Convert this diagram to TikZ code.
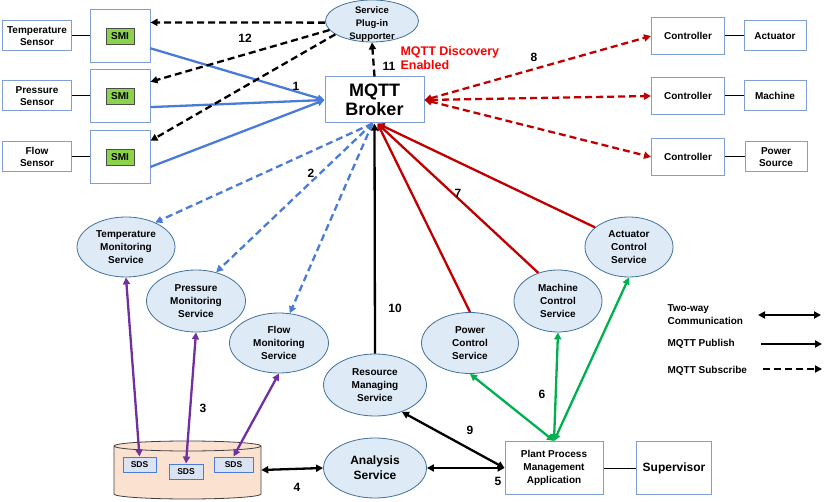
\documentclass[tikz,border=0pt]{standalone}
\usepackage{fontspec}
\setmainfont{Liberation Sans}
\usetikzlibrary{arrows.meta,shapes.geometric,calc}
\definecolor{bxblue}{HTML}{7F9FD4}
\definecolor{elfill}{HTML}{DEEAF6}
\definecolor{elline}{HTML}{41719C}
\definecolor{arblue}{HTML}{4A7BD6}
\definecolor{arred}{HTML}{C00000}
\definecolor{argreen}{HTML}{00B050}
\definecolor{arpurple}{HTML}{7030A0}
\definecolor{smigreen}{HTML}{8CD24A}
\definecolor{dbfill}{HTML}{FBE2D0}
\definecolor{sdsfill}{HTML}{DAE3F3}
\tikzset{
  txt/.style={font=\bfseries\fontsize{10}{13}\selectfont, align=center},
  box/.style={txt, draw=bxblue, line width=1pt, fill=white, inner sep=1pt},
  ell/.style={txt, ellipse, draw=elline, line width=0.8pt, fill=elfill, inner sep=0pt},
  smibox/.style={txt, draw=black!70, line width=0.8pt, fill=smigreen, minimum width=28, minimum height=16, inner sep=0pt},
  sds/.style={txt, draw=arblue, line width=1pt, fill=sdsfill, inner sep=0pt, font=\bfseries\fontsize{8.5}{9}\selectfont},
  num/.style={font=\bfseries\fontsize{12}{13}\selectfont},
  tip/.style={-{Triangle[length=7pt,width=7pt]}},
  tiptwo/.style={{Triangle[length=7pt,width=7pt]}-{Triangle[length=7pt,width=7pt]}},
  dsh/.style={dash pattern=on 7pt off 4pt},
  wire/.style={line width=2.3pt},
  thin/.style={line width=1pt},
}
\begin{document}
\begin{tikzpicture}[x=1pt,y=-1pt]
\useasboundingbox (0,0) rectangle (827,502);

% sensors
\node[box, minimum width=69, minimum height=30] (tsen) at (37,36) {Temperature\\[-1pt]Sensor};
\node[box, minimum width=69, minimum height=30] (psen) at (37,96) {Pressure\\[-1pt]Sensor};
\node[box, minimum width=69, minimum height=30] (fsen) at (37,157) {Flow\\[-1pt]Sensor};
% SMI boxes
\node[box, minimum width=60, minimum height=53] (smi1) at (120,36) {};
\node[box, minimum width=60, minimum height=53] (smi2) at (120,96) {};
\node[box, minimum width=60, minimum height=53] (smi3) at (120,157) {};
\node[smibox] (g1) at (120,36) {SMI};
\node[smibox] (g2) at (120,96) {SMI};
\node[smibox] (g3) at (120,157) {SMI};
\draw[thin] (tsen) -- (smi1);
\draw[thin] (psen) -- (smi2);
\draw[thin] (fsen) -- (smi3);

% plug-in & broker
\node[ell, minimum width=93, minimum height=42] (plug) at (372,21) {};
\node[txt, font=\bfseries\fontsize{9.5}{13}\selectfont] (plugt) at (372,24) {Service\\Plug-in\\Supporter};
\node[box, minimum width=99, minimum height=46, font=\bfseries\fontsize{18}{19}\selectfont] (broker) at (374.5,100) {MQTT\\Broker};
\node[anchor=west, text=red, font=\bfseries\fontsize{12.5}{14}\selectfont, align=left] (disc) at (397,58) {MQTT Discovery\\Enabled};

% controllers
\node[box, minimum width=73, minimum height=37] (c1) at (688,36) {Controller};
\node[box, minimum width=73, minimum height=37] (c2) at (688,96) {Controller};
\node[box, minimum width=73, minimum height=37] (c3) at (688,157) {Controller};
\node[box, minimum width=62, minimum height=30] (act) at (775,36) {Actuator};
\node[box, minimum width=62, minimum height=30] (mac) at (775,96) {Machine};
\node[box, minimum width=62, minimum height=30] (pow) at (776,157) {Power\\[-1pt]Source};
\draw[thin] (c1) -- (act);
\draw[thin] (c2) -- (mac);
\draw[thin] (c3) -- (pow);

% services
\node[ell, minimum width=98, minimum height=60] (tms) at (126,247) {Temperature\\Monitoring\\Service};
\node[ell, minimum width=99, minimum height=62] (pms) at (196,301) {Pressure\\Monitoring\\Service};
\node[ell, minimum width=99, minimum height=60] (fms) at (279,343) {Flow\\Monitoring\\Service};
\node[ell, minimum width=103, minimum height=62] (rms) at (375,385) {Resource\\Managing\\Service};
\node[ell, minimum width=103, minimum height=60, font=\bfseries\fontsize{12}{15}\selectfont] (ana) at (375,468) {Analysis\\Service};
\node[ell, minimum width=97, minimum height=61] (pcs) at (470,343) {Power\\Control\\Service};
\node[ell, minimum width=88, minimum height=62] (mcs) at (558,301) {Machine\\Control\\Service};
\node[ell, minimum width=88, minimum height=60] (acs) at (629,247) {Actuator\\Control\\Service};

% application & supervisor
\node[box, minimum width=98, minimum height=53] (ppma) at (554,468) {Plant Process\\Management\\Application};
\node[box, minimum width=75, minimum height=53, font=\bfseries\fontsize{12}{14}\selectfont] (sup) at (674,468) {Supervisor};
\draw[thin] (ppma) -- (sup);

% database
\draw[draw=black!75, line width=0.8pt, fill=dbfill]
  (114,446) -- (114,494) arc[start angle=180, end angle=0, x radius=73.5, y radius=5]
  -- (261,446) arc[start angle=0, end angle=-180, x radius=73.5, y radius=5] -- cycle;
\draw[draw=black!75, line width=0.8pt] (114,446) arc[start angle=180, end angle=0, x radius=73.5, y radius=5];
\node[minimum width=147, minimum height=58, inner sep=0pt] (db) at (187.5,470) {};
\node[sds, minimum width=33, minimum height=15] (sds1) at (139.5,464.5) {SDS};
\node[sds, minimum width=34, minimum height=15] (sds2) at (186,471.5) {SDS};
\node[sds, minimum width=39, minimum height=15] (sds3) at (233.5,464.5) {SDS};

% blue solid SMI -> broker
\draw[wire, arblue, tip] (smi1.-22) -- (broker.west);
\draw[wire, arblue, tip] (smi2.-20) -- (broker.west);
\draw[wire, arblue, tip] (smi3.-18) -- (broker.west);
% black dashed plug-in -> SMIs
\draw[wire, dsh, tip] (plug.182) -- (smi1.24);
\draw[wire, dsh, tip] (plug.192) -- (smi2.25);
\draw[wire, dsh, tip] (plug.200) -- (smi3.28);
% broker -> plug-in
\draw[wire, dsh, tip] (broker.north) -- (plug.south);
% red dashed broker <-> controllers
\draw[wire, arred, dsh, tiptwo] (broker.east) -- (c1.west);
\draw[wire, arred, dsh, tiptwo] (broker.east) -- (c2.west);
\draw[wire, arred, dsh, tiptwo] (broker.east) -- (c3.west);
% red solid control services -> broker
\coordinate (bkr) at ($(broker.south)+(3,0)$);
\coordinate (bkb) at ($(broker.south)+(-2,0)$);
\draw[wire, arred, tip] (pcs.north) -- (bkr);
\draw[wire, arred, tip] (mcs.125) -- (bkr);
\draw[wire, arred, tip] (acs.150) -- (bkr);
% black resource -> broker
\draw[wire, tip] (rms.north) -- (broker.south);
% blue dashed broker -> monitoring
\draw[wire, arblue, dsh, tip] (bkb) -- (tms.40);
\draw[wire, arblue, dsh, tip] (bkb) -- (pms.55);
\draw[wire, arblue, dsh, tip] (bkb) -- (fms.70);
% purple monitoring <-> SDS
\draw[wire, arpurple, tiptwo] (tms.south) -- (sds1.north);
\draw[wire, arpurple, tiptwo] (pms.south) -- (sds2.north);
\draw[wire, arpurple, tiptwo] (fms.south) -- (sds3.north);
% green application <-> control services
\draw[wire, argreen, tiptwo] (ppma.north) -- (pcs.south);
\draw[wire, argreen, tiptwo] (ppma.north) -- (mcs.south);
\draw[wire, argreen, tiptwo] (ppma.north) -- (acs.south);
% black two-way
\draw[wire, tiptwo] (db.east) -- (ana.west);
\draw[wire, tiptwo] (ana.east) -- (ppma.west);
\draw[wire, tiptwo] (rms.-45) -- (ppma.west);

% numbers
\node[num] (n1) at (296,86) {1};
\node[num] (n2) at (311,173) {2};
\node[num] (n3) at (203,408) {3};
\node[num] (n4) at (297,487) {4};
\node[num] (n5) at (498,481) {5};
\node[num] (n6) at (542,394) {6};
\node[num] (n7) at (458,193) {7};
\node[num] (n8) at (534,57) {8};
\node[num] (n9) at (470,430) {9};
\node[num] (n10) at (395,308) {10};
\node[num] (n11) at (389,66) {11};
\node[num] (n12) at (245,38) {12};

% legend
\node[txt, anchor=west, align=left] (lg1) at (664,315) {Two-way\\Communication};
\node[txt, anchor=west] (lg2) at (664,344) {MQTT Publish};
\node[txt, anchor=west] (lg3) at (664,371) {MQTT Subscribe};
\coordinate (l1a) at (758,315); \coordinate (l1b) at (821,315);
\coordinate (l2a) at (761,344); \coordinate (l2b) at (822,344);
\coordinate (l3a) at (763,369); \coordinate (l3b) at (822,369);
\draw[wire, tiptwo] (l1a) -- (l1b);
\draw[wire, tip] (l2a) -- (l2b);
\draw[wire, dsh, tip] (l3a) -- (l3b);
\end{tikzpicture}
\end{document}
